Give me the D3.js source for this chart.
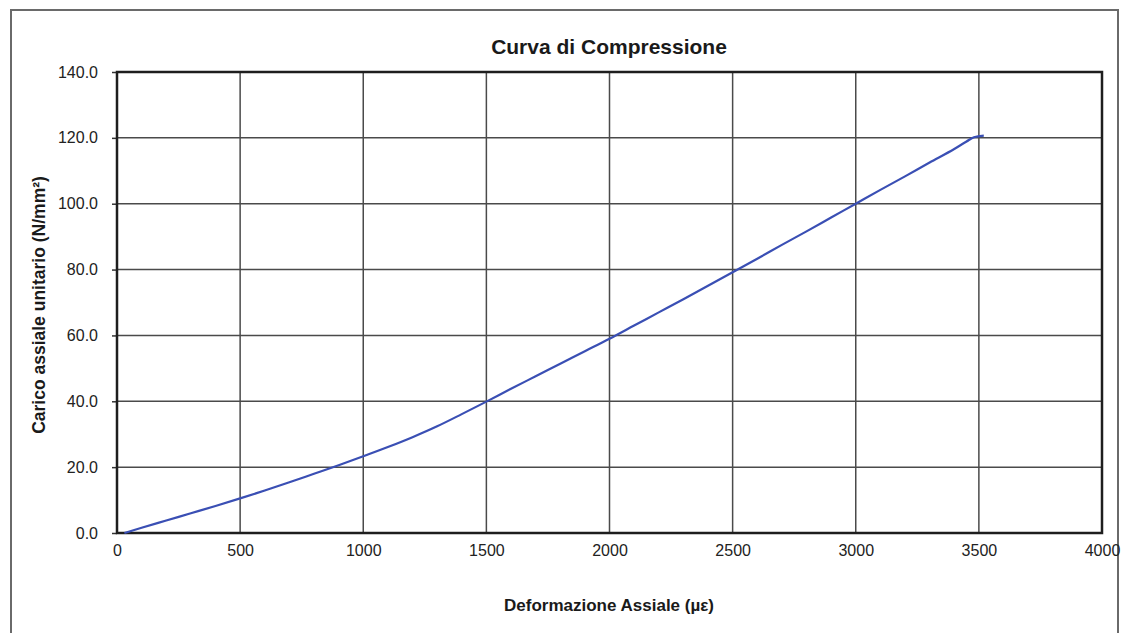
<!DOCTYPE html>
<html><head><meta charset="utf-8">
<script src="https://cdn.jsdelivr.net/npm/d3@7"></script>
<style>html,body{margin:0;padding:0;background:#fff;}svg{display:block;}</style>
</head><body>
<script>
const title = "Curva di Compressione";
const xLabel = "Deformazione Assiale (µε)";
const yLabel = "Carico assiale unitario (N/mm²)";
const xTicks = [0,500,1000,1500,2000,2500,3000,3500,4000];
const yTicks = [0,20,40,60,80,100,120,140];
const strain = [30,100,200,300,400,500,600,700,800,900,1000,1100,1200,1300,1400,1500,1600,1700,1800,1900,2000,2100,2200,2300,2400,2500,2600,2700,2800,2900,3000,3100,3200,3300,3400,3450,3480,3520];
const stress = [0,1.6,3.8,6.0,8.2,10.5,12.9,15.4,18.0,20.6,23.3,26.1,29.1,32.4,36.1,39.9,43.8,47.6,51.4,55.2,59.0,63.0,67.0,71.0,75.1,79.2,83.3,87.5,91.6,95.8,100.0,104.2,108.3,112.5,116.6,118.9,120.2,120.7];

const W=1125,H=633;
const m={left:117,right:1102,top:72,bottom:533};
const svg=d3.select("body").append("svg").attr("width",W).attr("height",H);
svg.append("rect").attr("width",W).attr("height",H).attr("fill","#fff");
// outer frame
svg.append("rect").attr("x",11).attr("y",10).attr("width",1107).attr("height",640)
  .attr("fill","none").attr("stroke","#6a6a6a").attr("stroke-width",2);

const x=d3.scaleLinear().domain([0,4000]).range([m.left,m.right]);
const y=d3.scaleLinear().domain([0,140]).range([m.bottom,m.top]);

// gridlines
svg.append("g").selectAll("line").data(xTicks.slice(1,-1)).join("line")
  .attr("x1",d=>x(d)).attr("x2",d=>x(d)).attr("y1",m.top).attr("y2",m.bottom)
  .attr("stroke","#4a4a4a").attr("stroke-width",1.5);
svg.append("g").selectAll("line").data(yTicks.slice(1,-1)).join("line")
  .attr("x1",m.left).attr("x2",m.right).attr("y1",d=>y(d)).attr("y2",d=>y(d))
  .attr("stroke","#4a4a4a").attr("stroke-width",1.5);

// y axis
const ya=svg.append("g").attr("transform",`translate(${m.left},0)`)
  .call(d3.axisLeft(y).tickValues(yTicks).tickFormat(d3.format(".1f")).tickSize(5).tickPadding(14));
ya.select(".domain").remove();
ya.selectAll("line").attr("stroke","#333").attr("stroke-width",1.5);
ya.selectAll("text").attr("font-family","Liberation Sans, Arial, sans-serif").attr("font-size",16).attr("fill","#222");

// x axis
const xa=svg.append("g").attr("transform",`translate(0,${m.bottom})`)
  .call(d3.axisBottom(x).tickValues(xTicks).tickFormat(d3.format("d")).tickSize(0).tickPadding(12));
xa.select(".domain").remove();
xa.selectAll("text").attr("font-family","Liberation Sans, Arial, sans-serif").attr("font-size",16).attr("fill","#222");

// plot border
svg.append("rect").attr("x",m.left).attr("y",m.top).attr("width",m.right-m.left).attr("height",m.bottom-m.top)
  .attr("fill","none").attr("stroke","#1e1e1e").attr("stroke-width",2.5);

// curve
const pts=strain.map((s,i)=>[s,stress[i]]);
svg.append("path").datum(pts)
  .attr("d",d3.line().x(d=>x(d[0])).y(d=>y(d[1])).curve(d3.curveMonotoneX))
  .attr("fill","none").attr("stroke","#3a4fb4").attr("stroke-width",2.2);

// titles
svg.append("text").attr("x",609).attr("y",54).attr("text-anchor","middle")
  .attr("font-family","Liberation Sans, Arial, sans-serif").attr("font-weight","bold").attr("font-size",21)
  .attr("fill","#1a1a1a").text(title);
svg.append("text").attr("x",609).attr("y",611).attr("text-anchor","middle")
  .attr("font-family","Liberation Sans, Arial, sans-serif").attr("font-weight","bold").attr("font-size",17)
  .attr("fill","#1a1a1a").text(xLabel);
svg.append("text").attr("transform","translate(45,305) rotate(-90)").attr("text-anchor","middle")
  .attr("font-family","Liberation Sans, Arial, sans-serif").attr("font-weight","bold").attr("font-size",17.5)
  .attr("fill","#1a1a1a").text(yLabel);
</script>
</body></html>
